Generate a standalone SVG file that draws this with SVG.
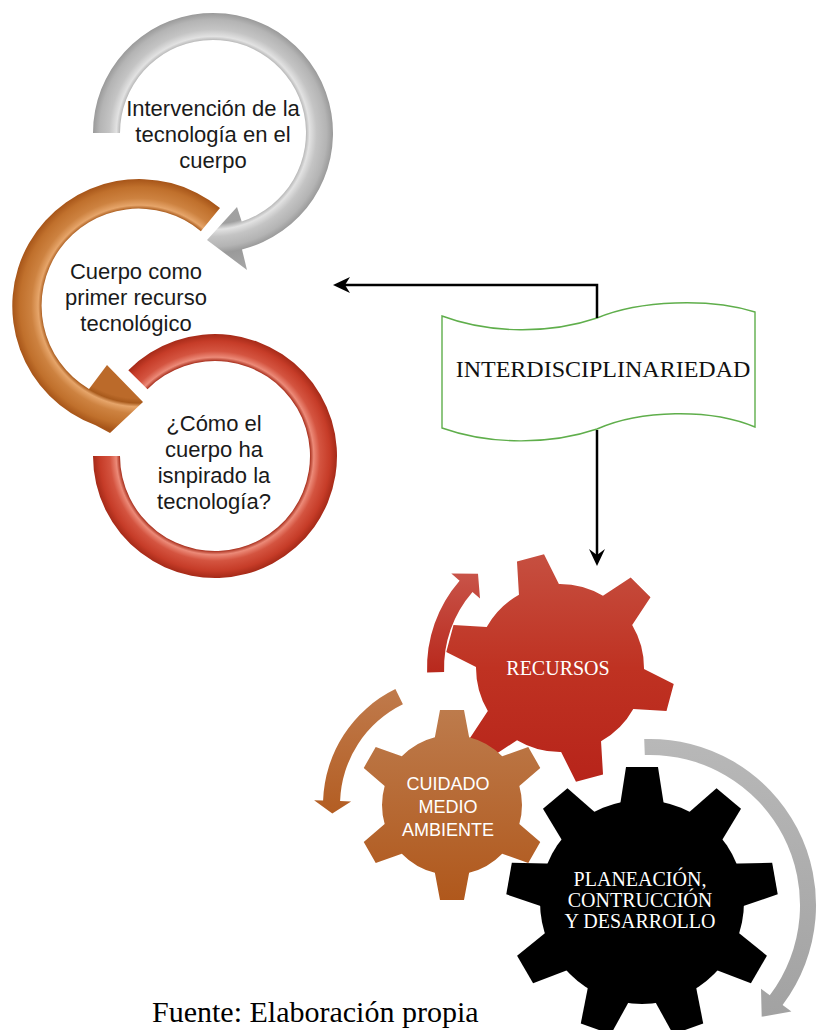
<svg xmlns="http://www.w3.org/2000/svg" width="821" height="1030" viewBox="0 0 821 1030">
<style>
.lbl{font-family:"Liberation Sans",Arial,sans-serif;font-size:22px;fill:#1a1a1a;text-anchor:middle}
.gtxt{font-family:"Liberation Serif","Times New Roman",serif;font-size:20px;fill:#ffffff;text-anchor:middle}
.otxt{font-family:"Liberation Sans",Arial,sans-serif;font-size:18px;fill:#ffffff;text-anchor:middle}
.conn{stroke:#000;stroke-width:2.5;fill:none}
.head{fill:#000;stroke:none}
.banner{fill:#fff;stroke:#5fae4b;stroke-width:1.4}
</style>
<defs>
<radialGradient id="gGray" gradientUnits="userSpaceOnUse" cx="213" cy="133" r="142">
<stop offset="0" stop-color="#a8a8a8"/>
<stop offset="0.64" stop-color="#a0a0a0"/>
<stop offset="0.68" stop-color="#e2e2e2"/>
<stop offset="0.73" stop-color="#c4c4c4"/>
<stop offset="0.80" stop-color="#b4b4b4"/>
<stop offset="0.845" stop-color="#9a9a9a"/>
<stop offset="1" stop-color="#a8a8a8"/>
</radialGradient>
<radialGradient id="gOrRing" gradientUnits="userSpaceOnUse" cx="139" cy="306" r="140">
<stop offset="0" stop-color="#bb6a2a"/>
<stop offset="0.66" stop-color="#bb6a2a"/>
<stop offset="0.693" stop-color="#a85a1c"/>
<stop offset="0.72" stop-color="#e6a56a"/>
<stop offset="0.77" stop-color="#cd8240"/>
<stop offset="0.85" stop-color="#c0702c"/>
<stop offset="0.907" stop-color="#a65418"/>
<stop offset="1" stop-color="#b8652a"/>
</radialGradient>
<radialGradient id="gRedRing" gradientUnits="userSpaceOnUse" cx="215" cy="456" r="125">
<stop offset="0" stop-color="#b83220"/>
<stop offset="0.76" stop-color="#a8301e"/>
<stop offset="0.79" stop-color="#ec8a78"/>
<stop offset="0.84" stop-color="#d45440"/>
<stop offset="0.92" stop-color="#c63c28"/>
<stop offset="0.976" stop-color="#a52a18"/>
<stop offset="1" stop-color="#a52a18"/>
</radialGradient>
<linearGradient id="gRedGear" gradientUnits="userSpaceOnUse" x1="0" y1="555" x2="0" y2="782">
<stop offset="0" stop-color="#c64f40"/>
<stop offset="0.5" stop-color="#bf3222"/>
<stop offset="1" stop-color="#b7241a"/>
</linearGradient>
<linearGradient id="gOrGear" gradientUnits="userSpaceOnUse" x1="0" y1="710" x2="0" y2="900">
<stop offset="0" stop-color="#bd7b4c"/>
<stop offset="1" stop-color="#b0581c"/>
</linearGradient>
<linearGradient id="gRedArr" gradientUnits="userSpaceOnUse" x1="0" y1="570" x2="0" y2="673">
<stop offset="0" stop-color="#c9554a"/>
<stop offset="1" stop-color="#b8281c"/>
</linearGradient>
<linearGradient id="gOrArr" gradientUnits="userSpaceOnUse" x1="0" y1="685" x2="0" y2="815">
<stop offset="0" stop-color="#c07b4d"/>
<stop offset="1" stop-color="#b35d22"/>
</linearGradient>
<linearGradient id="gGrayArr" gradientUnits="userSpaceOnUse" x1="0" y1="739" x2="0" y2="1017">
<stop offset="0" stop-color="#b8b8b8"/>
<stop offset="1" stop-color="#a2a2a2"/>
</linearGradient>
<clipPath id="clipRedGear">
<circle cx="560" cy="668" r="84"/>
<polygon points="-23,-70 -14,-114 14,-114 23,-70" transform="translate(560 668) rotate(-15)"/>
<polygon points="-23,-70 -14,-114 14,-114 23,-70" transform="translate(560 668) rotate(45)"/>
<polygon points="-23,-70 -14,-114 14,-114 23,-70" transform="translate(560 668) rotate(105)"/>
<polygon points="-23,-70 -14,-114 14,-114 23,-70" transform="translate(560 668) rotate(165)"/>
<polygon points="-23,-70 -14,-114 14,-114 23,-70" transform="translate(560 668) rotate(225)"/>
<polygon points="-23,-70 -14,-114 14,-114 23,-70" transform="translate(560 668) rotate(285)"/>
</clipPath>
<clipPath id="clipOrGear">
<circle cx="452" cy="805" r="70"/>
<polygon points="-19,-58 -12,-95 12,-95 19,-58" transform="translate(452 805) rotate(0)"/>
<polygon points="-19,-58 -12,-95 12,-95 19,-58" transform="translate(452 805) rotate(60)"/>
<polygon points="-19,-58 -12,-95 12,-95 19,-58" transform="translate(452 805) rotate(120)"/>
<polygon points="-19,-58 -12,-95 12,-95 19,-58" transform="translate(452 805) rotate(180)"/>
<polygon points="-19,-58 -12,-95 12,-95 19,-58" transform="translate(452 805) rotate(240)"/>
<polygon points="-19,-58 -12,-95 12,-95 19,-58" transform="translate(452 805) rotate(300)"/>
</clipPath>
<polygon id="toothBlack" points="-23,-90 -16,-135 16,-135 23,-90"/>
</defs>

<rect width="821" height="1030" fill="#ffffff"/>

<g id="node-intervencion">
<path d="M93,133 A120,120 0 1 1 242,249.4 L247,270 L207,240 L237,207 L241.7,221.4 A93,93 0 1 0 120,133 Z" fill="url(#gGray)"/>
<text class="lbl" x="213" y="116">Intervención de la</text>
<text class="lbl" x="213" y="142">tecnología en el</text>
<text class="lbl" x="213" y="168">cuerpo</text>
</g>

<g id="node-cuerpo-recurso">
<path d="M220,208 A127,127 0 1 0 95.6,425.3 L110,433 L143,402 L107,365 L89,389 A97,97 0 1 1 200.9,231.3 Z" fill="url(#gOrRing)"/>
<text class="lbl" x="136" y="279">Cuerpo como</text>
<text class="lbl" x="136" y="305">primer recurso</text>
<text class="lbl" x="136" y="331">tecnológico</text>
</g>

<g id="node-como-cuerpo">
<path d="M93,456 A122,122 0 1 0 128.3,370.2 L147.5,389.2 A95,95 0 1 1 120,456 Z" fill="url(#gRedRing)"/>
<text class="lbl" x="214" y="431">¿Cómo el</text>
<text class="lbl" x="214" y="457">cuerpo ha</text>
<text class="lbl" x="214" y="483">isnpirado la</text>
<text class="lbl" x="214" y="509">tecnología?</text>
</g>

<g id="node-interdisciplinariedad">
<path class="banner" d="M442,316 C490,334 550,334 597,318 C640,300 710,298 755,312 L755,427 C710,408 640,410 597,429 C550,445 490,445 442,428 Z"/>
<text x="603" y="377" font-family="'Liberation Serif','Times New Roman',serif" font-size="24" fill="#111" text-anchor="middle">INTERDISCIPLINARIEDAD</text>
</g>

<g id="connectors">
<path class="conn" d="M597,318 V285 H341"/>
<path class="head" d="M333,285 L350,277 L345,285 L350,293 Z"/>
<path class="conn" d="M597,430 V557"/>
<path class="head" d="M597,566 L589,549 L597,555 L605,549 Z"/>
</g>

<g id="node-recursos">
<path d="M427.1,672.6 A133,133 0 0 1 459.6,580.7 L451.3,573.5 L478,573.7 L480,598.5 L472.5,591.9 A116,116 0 0 0 444.1,672 Z" fill="url(#gRedArr)"/>
<rect x="440" y="550" width="240" height="235" fill="url(#gRedGear)" clip-path="url(#clipRedGear)"/>
<text class="gtxt" x="558" y="675">RECURSOS</text>
</g>

<g id="node-cuidado">
<path d="M395.4,689.1 A129,129 0 0 0 323.1,800.5 L314.1,800.2 L332.3,813.4 L351.1,801.5 L340.1,801.1 A112,112 0 0 1 402.9,704.3 Z" fill="url(#gOrArr)"/>
<rect x="350" y="705" width="205" height="200" fill="url(#gOrGear)" clip-path="url(#clipOrGear)"/>
<text class="otxt" x="448" y="790">CUIDADO</text>
<text class="otxt" x="448" y="813">MEDIO</text>
<text class="otxt" x="448" y="836">AMBIENTE</text>
</g>

<g id="node-planeacion">
<path d="M644.2,739.1 A166,166 0 0 1 782.6,1004.9 L791.4,1011.5 L761.7,1016.7 L761,988.7 L769.8,995.3 A150,150 0 0 0 644.8,755.1 Z" fill="url(#gGrayArr)"/>
<g fill="#000">
<circle cx="642" cy="902" r="102"/>
<use href="#toothBlack" transform="translate(642 902) rotate(0)"/>
<use href="#toothBlack" transform="translate(642 902) rotate(40)"/>
<use href="#toothBlack" transform="translate(642 902) rotate(80)"/>
<use href="#toothBlack" transform="translate(642 902) rotate(120)"/>
<use href="#toothBlack" transform="translate(642 902) rotate(160)"/>
<use href="#toothBlack" transform="translate(642 902) rotate(200)"/>
<use href="#toothBlack" transform="translate(642 902) rotate(240)"/>
<use href="#toothBlack" transform="translate(642 902) rotate(280)"/>
<use href="#toothBlack" transform="translate(642 902) rotate(320)"/>
</g>
<text class="gtxt" x="640" y="886">PLANEACIÓN,</text>
<text class="gtxt" x="640" y="907">CONTRUCCIÓN</text>
<text class="gtxt" x="640" y="928">Y DESARROLLO</text>
</g>

<text x="152" y="1022" font-family="'Liberation Serif','Times New Roman',serif" font-size="30" fill="#000">Fuente: Elaboración propia</text>
</svg>
